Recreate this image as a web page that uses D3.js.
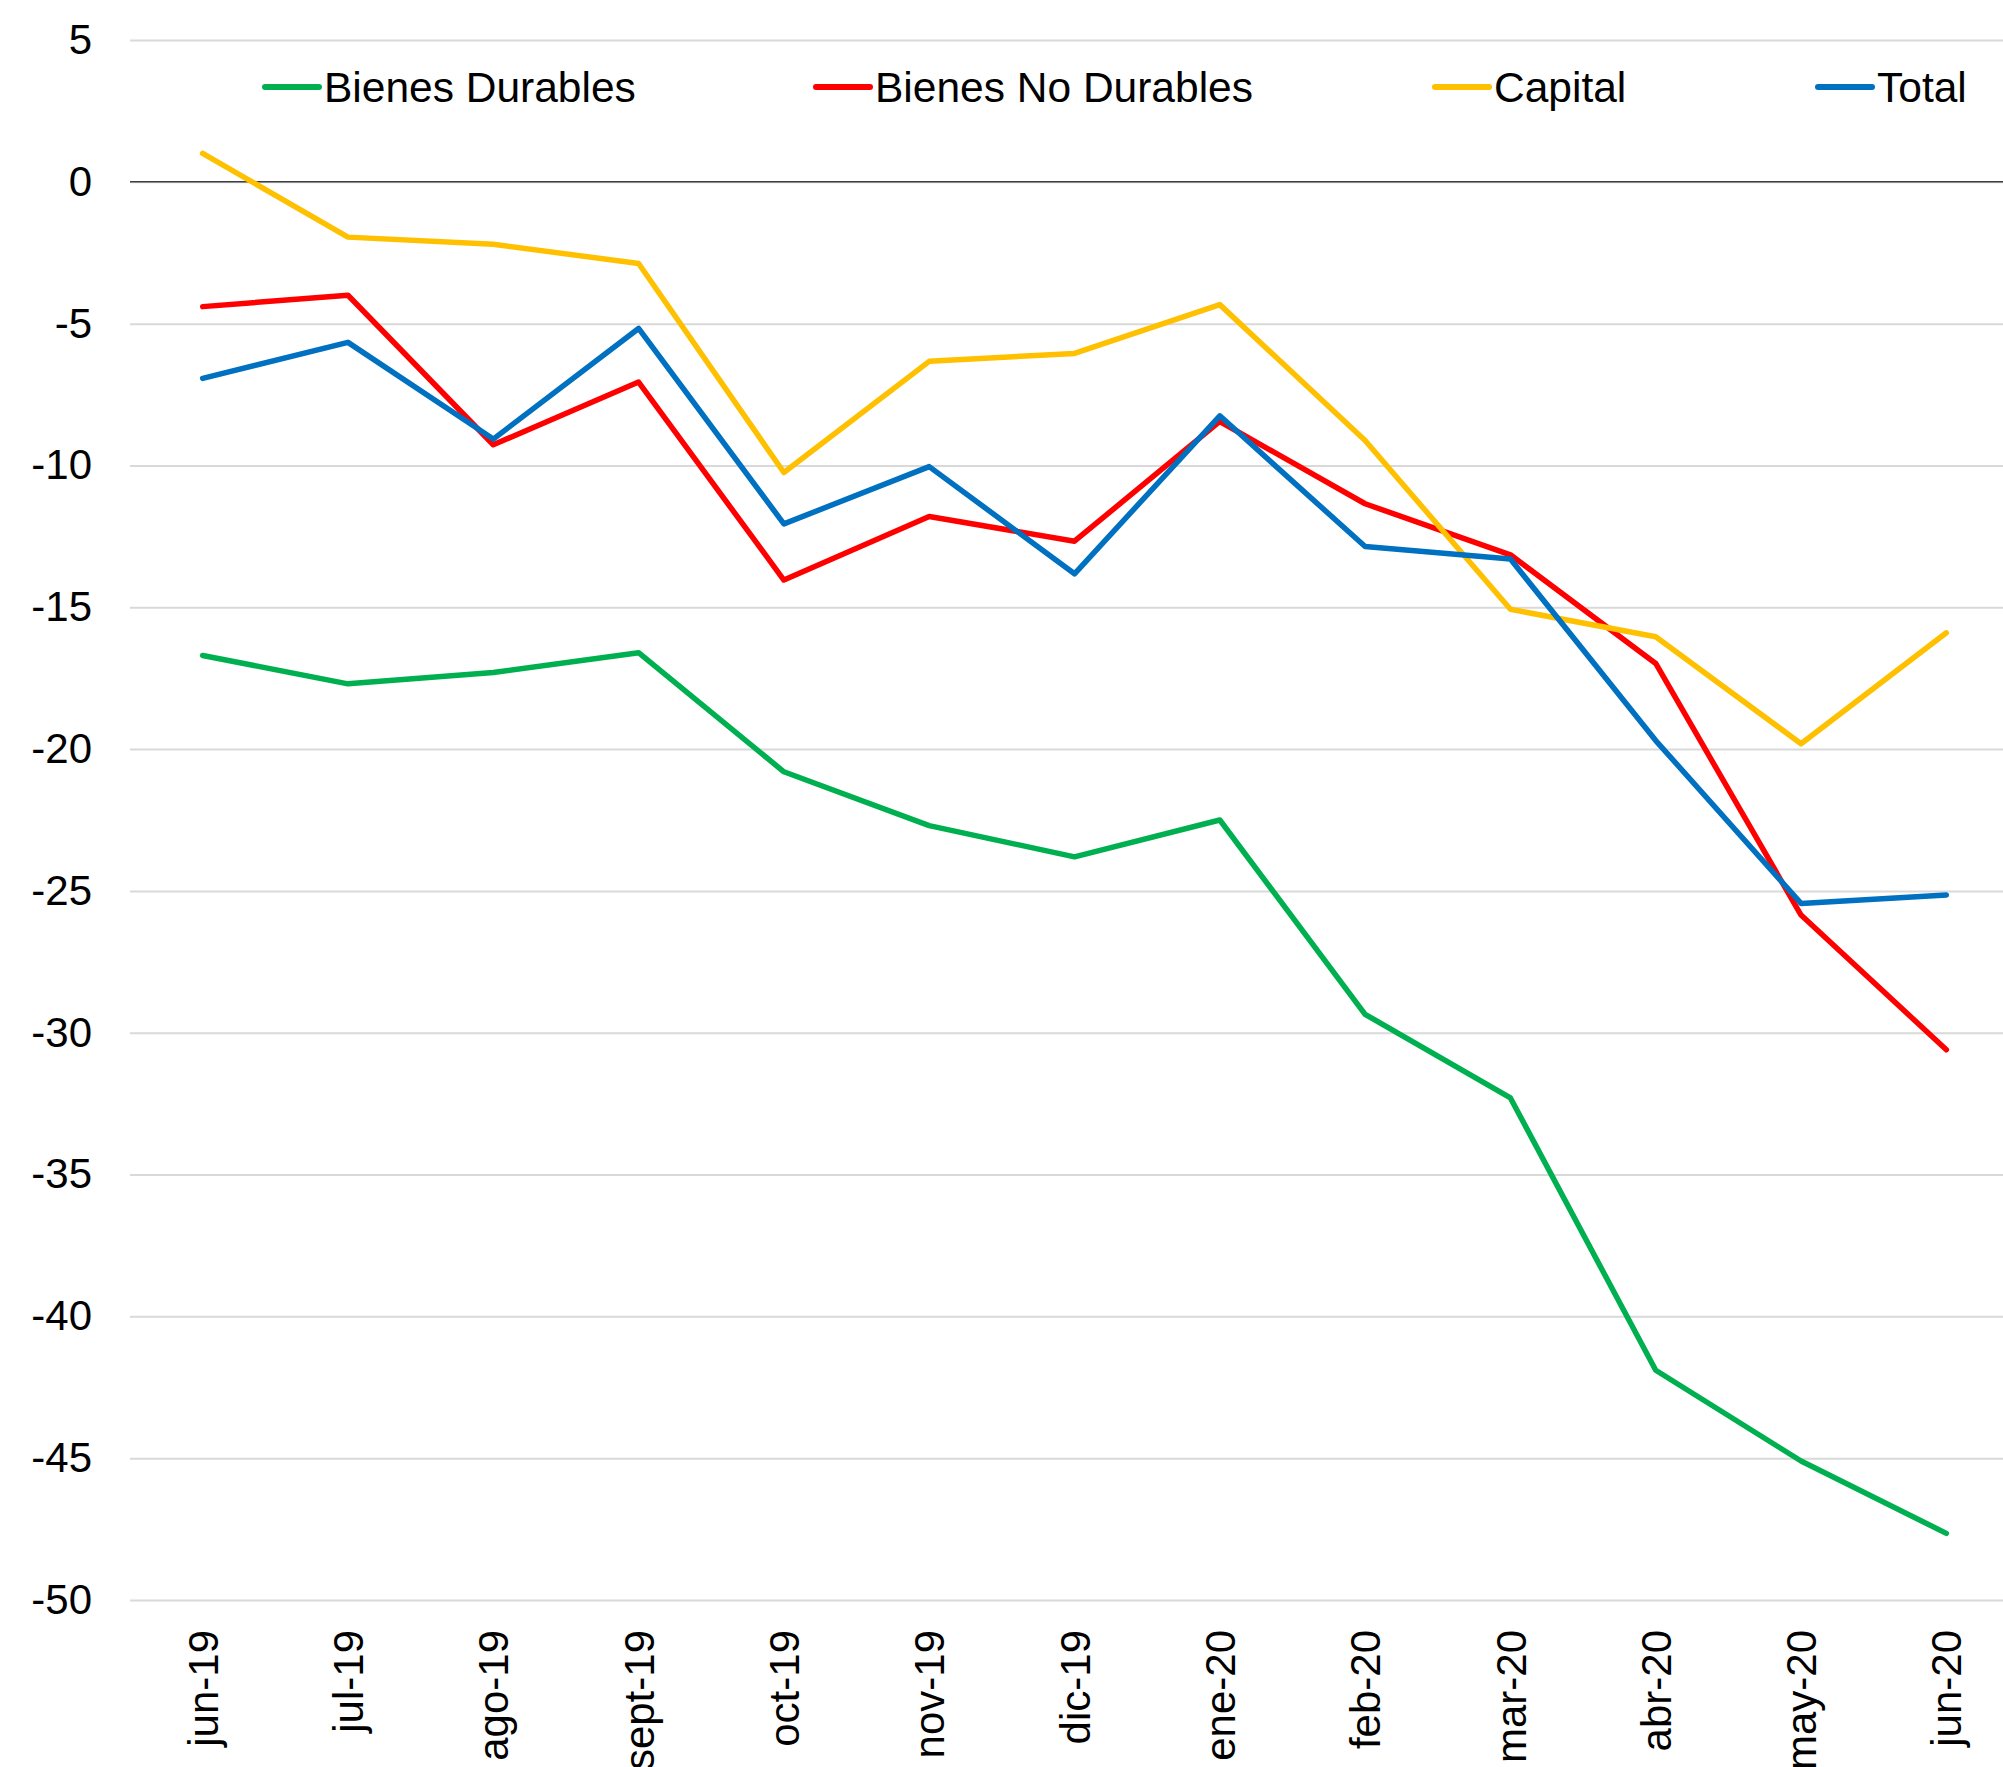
<html>
<head>
<meta charset="utf-8">
<script src="https://d3js.org/d3.v7.min.js"></script>
<style>
  body { margin: 0; background: #fff; }
  text { font-family: "Liberation Sans", Arial, sans-serif; fill: #000; }
</style>
</head>
<body>
<svg id="chart"></svg>
<script>
// categories (x axis)
var months = ["jun-19", "jul-19", "ago-19", "sept-19", "oct-19", "nov-19", "dic-19",
              "ene-20", "feb-20", "mar-20", "abr-20", "may-20", "jun-20"];

// series values
var durables    = [-16.7, -17.7, -17.3, -16.6, -20.8, -22.7, -23.8, -22.5, -29.35, -32.3, -41.9, -45.1, -47.65];
var noDurables  = [-4.4, -4.0, -9.27, -7.06, -14.04, -11.8, -12.67, -8.45, -11.35, -13.15, -16.98, -25.85, -30.6];
var capital     = [1.0, -1.95, -2.2, -2.88, -10.25, -6.33, -6.05, -4.33, -9.12, -15.07, -16.04, -19.81, -15.9];
var total       = [-6.93, -5.66, -9.07, -5.17, -12.06, -10.04, -13.82, -8.25, -12.86, -13.3, -19.7, -25.44, -25.14];

// y tick labels
var yTicks = [5, 0, -5, -10, -15, -20, -25, -30, -35, -40, -45, -50];

var seriesNames  = ["Bienes Durables", "Bienes No Durables", "Capital", "Total"];
var seriesValues = [durables, noDurables, capital, total];
var seriesColors = ["#00B050", "#FF0000", "#FFC000", "#0070C0"];

function init() {
    var width = 2003, height = 1767;
    var svg = d3.select("#chart").attr("width", width).attr("height", height);

    var plotLeft = 130, plotRight = 2019;

    var x = d3.scaleBand().domain(months).range([plotLeft, plotRight]);
    var y = d3.scaleLinear().domain([-50, 5]).range([1600, 40]);

    //gridlines + y labels (plain hyphen for the minus, like the original)
    var yAxis = svg.append("g")
        .attr("transform", "translate(" + plotLeft + ",0)")
        .call(d3.axisLeft(y).tickValues(yTicks).tickSize(-(width - plotLeft)).tickPadding(38)
              .tickFormat(function(d) { return String(d); }));
    yAxis.select(".domain").remove();
    yAxis.selectAll("line").attr("stroke", "#d9d9d9").attr("stroke-width", 2);
    yAxis.selectAll("text").attr("font-size", 42).style("font-family", "'Liberation Sans', Arial, sans-serif");

    // zero line
    svg.append("line")
        .attr("x1", plotLeft).attr("x2", width)
        .attr("y1", y(0)).attr("y2", y(0))
        .attr("stroke", "#3f3f3f").attr("stroke-width", 1.6);

    //x labels, rotated
    var xAxis = svg.append("g")
        .attr("transform", "translate(0," + y(-50) + ")")
        .call(d3.axisBottom(x).tickSize(0).tickPadding(0));
    xAxis.select(".domain").remove();
    xAxis.selectAll("text")
        .attr("font-size", 42)
        .style("font-family", "'Liberation Sans', Arial, sans-serif")
        .attr("text-anchor", "end")
        .attr("transform", "translate(0,30) rotate(-90)")
        .attr("x", 0).attr("y", 0).attr("dy", "0.36em");

    //draw the lines
    var line = d3.line()
        .x(function(d, i) { return x(months[i]) + x.bandwidth() / 2; })
        .y(function(d) { return y(d); });

    seriesValues.forEach(function(vals, k) {
        svg.append("path")
            .datum(vals)
            .attr("fill", "none")
            .attr("stroke", seriesColors[k])
            .attr("stroke-width", 5.5)
            .attr("stroke-linejoin", "round")
            .attr("stroke-linecap", "round")
            .attr("d", line);
    });

    //legend
    var legendStart = [265, 816, 1435, 1818];
    var legendY = 87;
    var legend = svg.append("g").selectAll("g")
        .data(seriesNames)
        .enter().append("g")
        .attr("transform", function(d, i) { return "translate(" + legendStart[i] + "," + legendY + ")"; });
    legend.append("line")
        .attr("x1", 0).attr("x2", 54)
        .attr("y1", 0).attr("y2", 0)
        .attr("stroke", function(d, i) { return seriesColors[i]; })
        .attr("stroke-width", 6)
        .attr("stroke-linecap", "round");
    legend.append("text")
        .attr("x", 59).attr("y", 0).attr("dy", "0.35em")
        .attr("font-size", 42.5)
        .text(function(d) { return d; });
}
init();
</script>
</body>
</html>
